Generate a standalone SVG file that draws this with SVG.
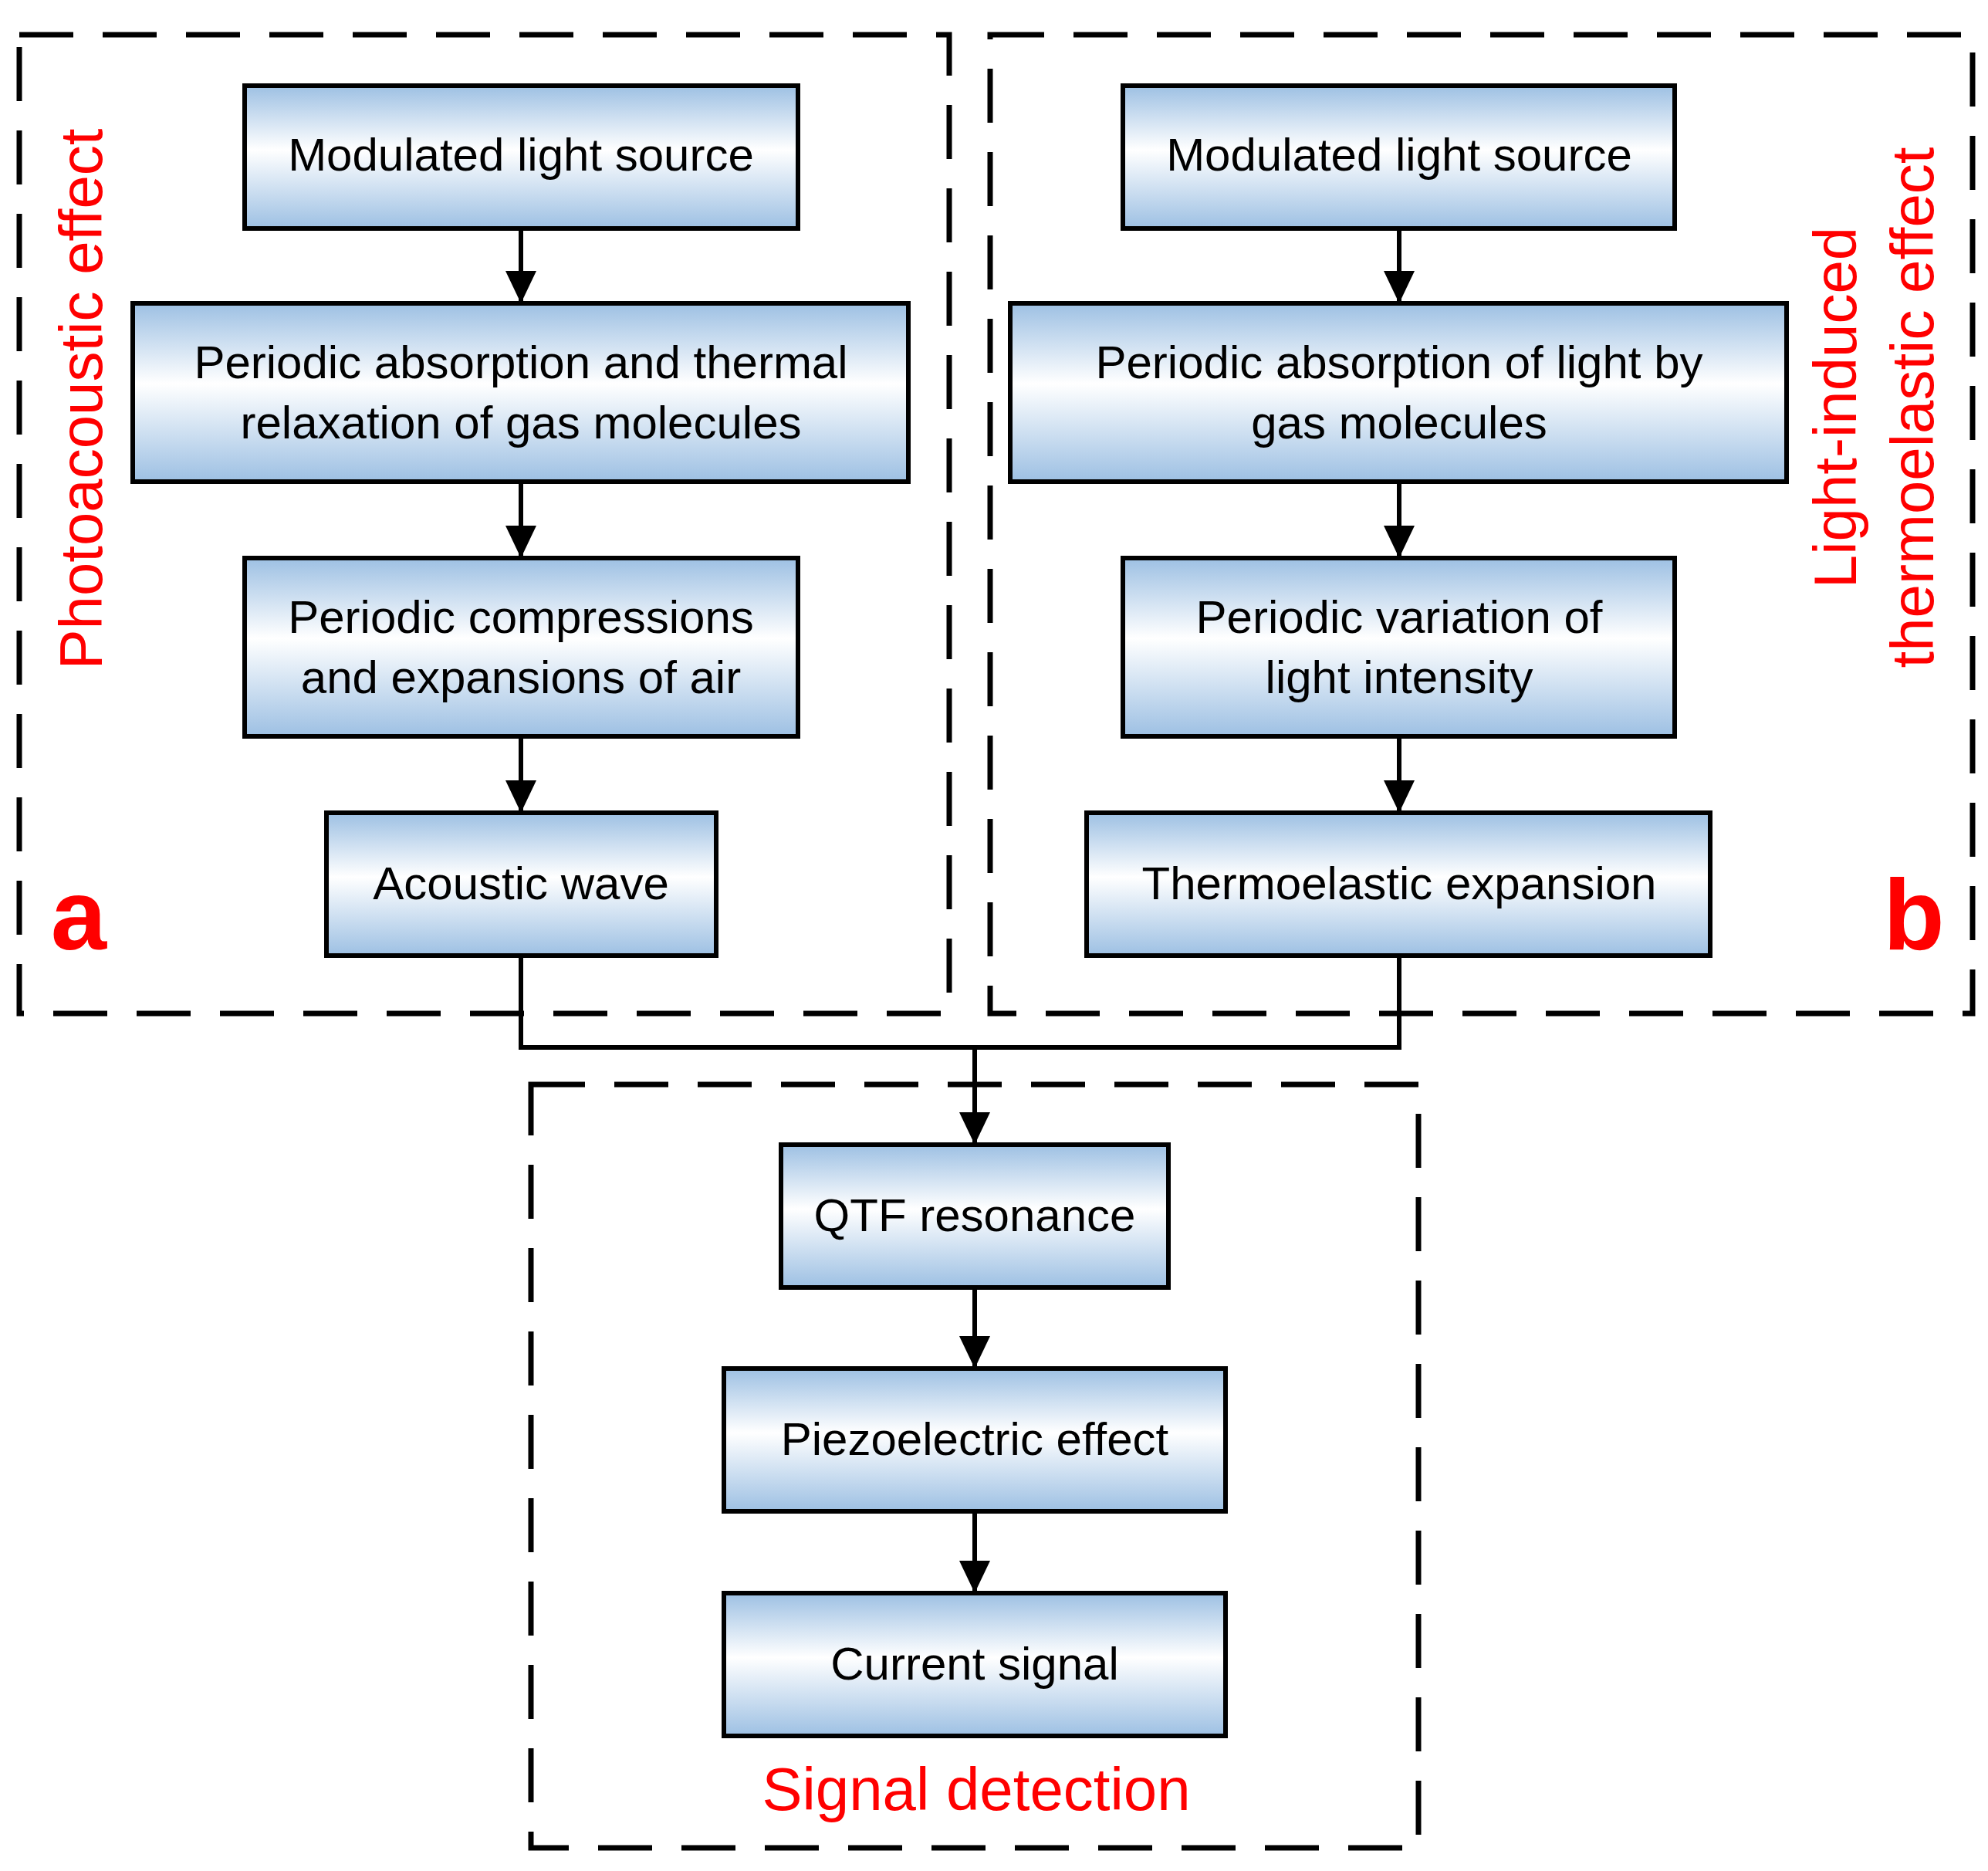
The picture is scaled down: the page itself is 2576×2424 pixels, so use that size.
<svg xmlns="http://www.w3.org/2000/svg" width="2576" height="2424" viewBox="0 0 2576 2424">
<defs>
<linearGradient id="g" x1="0" y1="0" x2="0" y2="1">
<stop offset="0" stop-color="#9dc0e3"/><stop offset="0.45" stop-color="#ffffff"/><stop offset="1" stop-color="#9dc0e3"/>
</linearGradient>
<marker id="ar" viewBox="0 0 10 10" refX="10" refY="5" markerWidth="5" markerHeight="6" markerUnits="userSpaceOnUse" orient="auto" overflow="visible">
<path d="M0,0 L10,5 L0,10 z" fill="#000"/>
</marker>
</defs>
<style>
.n{fill:url(#g);stroke:#000;stroke-width:6}
.t{font-family:"Liberation Sans",Arial,sans-serif;font-size:60px;fill:#000;text-anchor:middle}
.d{fill:none;stroke:#000;stroke-width:7;stroke-dasharray:70 38}
.c{fill:none;stroke:#000;stroke-width:6}
.r{font-family:"Liberation Sans",Arial,sans-serif;font-size:78px;fill:#f00;text-anchor:middle}
.b{font-family:"Liberation Sans",Arial,sans-serif;font-size:130px;font-weight:bold;fill:#f00;text-anchor:middle}
</style>
<rect width="2576" height="2424" fill="#fff"/>
<g id="frames">
<rect class="d" x="25" y="45" width="1205" height="1268"/>
<rect class="d" x="1283" y="45" width="1273" height="1268"/>
<rect class="d" x="688" y="1405" width="1150" height="989"/>
</g>
<g id="connectors">
<defs><path id="ah" d="M-20,-42 L20,-42 L0,0 z"/></defs>
<path class="c" d="M675,296V393 M675,624V723 M675,954V1053 M1813,296V393 M1813,624V723 M1813,954V1053 M1263,1668V1773 M1263,1958V2064"/>
<path class="c" d="M675,1238V1357H1813V1238 M1263,1357V1483"/>
<use href="#ah" x="675" y="393"/><use href="#ah" x="675" y="723"/><use href="#ah" x="675" y="1053"/>
<use href="#ah" x="1813" y="393"/><use href="#ah" x="1813" y="723"/><use href="#ah" x="1813" y="1053"/>
<use href="#ah" x="1263" y="1483"/><use href="#ah" x="1263" y="1773"/><use href="#ah" x="1263" y="2064"/>
</g>
<g id="a1"><rect class="n" x="317" y="111" width="717" height="185"/><text class="t" x="675" y="221">Modulated light source</text></g>
<g id="a2"><rect class="n" x="172" y="393" width="1005" height="231"/><text class="t" x="675" y="490">Periodic absorption and thermal</text><text class="t" x="675" y="568">relaxation of gas molecules</text></g>
<g id="a3"><rect class="n" x="317" y="723" width="717" height="231"/><text class="t" x="675" y="820">Periodic compressions</text><text class="t" x="675" y="898">and expansions of air</text></g>
<g id="a4"><rect class="n" x="423" y="1053" width="505" height="185"/><text class="t" x="675" y="1165">Acoustic wave</text></g>
<g id="b1"><rect class="n" x="1455" y="111" width="715" height="185"/><text class="t" x="1813" y="221">Modulated light source</text></g>
<g id="b2"><rect class="n" x="1309" y="393" width="1006" height="231"/><text class="t" x="1813" y="490">Periodic absorption of light by</text><text class="t" x="1813" y="568">gas molecules</text></g>
<g id="b3"><rect class="n" x="1455" y="723" width="715" height="231"/><text class="t" x="1813" y="820">Periodic variation of</text><text class="t" x="1813" y="898">light intensity</text></g>
<g id="b4"><rect class="n" x="1408" y="1053" width="808" height="185"/><text class="t" x="1813" y="1165">Thermoelastic expansion</text></g>
<g id="c1"><rect class="n" x="1012" y="1483" width="502" height="185"/><text class="t" x="1263" y="1595">QTF resonance</text></g>
<g id="c2"><rect class="n" x="938" y="1773" width="650" height="185"/><text class="t" x="1263" y="1885">Piezoelectric effect</text></g>
<g id="c3"><rect class="n" x="938" y="2064" width="650" height="185"/><text class="t" x="1263" y="2176">Current signal</text></g>
<g id="labels">
<text class="r" transform="translate(132,517) rotate(-90)">Photoacoustic effect</text>
<text class="r" transform="translate(2405,528) rotate(-90)">Light-induced</text>
<text class="r" transform="translate(2505,528) rotate(-90)">thermoelastic effect</text>
<text class="r" x="1265" y="2345">Signal detection</text>
<text class="b" x="102" y="1230">a</text>
<text class="b" x="2480" y="1230">b</text>
</g>
</svg>
